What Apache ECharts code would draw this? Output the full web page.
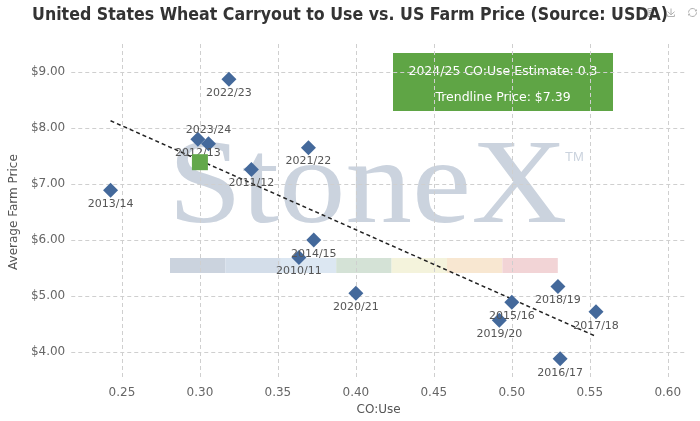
<!DOCTYPE html>
<html>
<head>
<meta charset="utf-8">
<script src="https://cdn.jsdelivr.net/npm/echarts@6/dist/echarts.min.js"></script>
<style>
  html, body { margin: 0; padding: 0; background: #fff; }
  #chart { width: 700px; height: 421px; }
</style>
</head>
<body>
<div id="chart"></div>
<script>
// seasons and their carryout-to-use ratio / farm price
const seasons = ['2010/11', '2011/12', '2012/13', '2013/14', '2014/15', '2015/16', '2016/17',
  '2017/18', '2018/19', '2019/20', '2020/21', '2021/22', '2022/23', '2023/24'];
const coUse = [0.3635, 0.333, 0.2987, 0.2427, 0.373, 0.50, 0.531,
  0.554, 0.5296, 0.492, 0.40, 0.3696, 0.3186, 0.3055];
const farmPrice = [5.69, 7.26, 7.80, 6.89, 6.00, 4.89, 3.88,
  4.72, 5.17, 4.57, 5.05, 7.65, 8.87, 7.72];

// 2024/25 estimate
const estimate = [0.3, 7.39];

// dashed trendline end points
const trendX = [0.2427, 0.554];
const trendY = [8.13, 4.28];

// seasons whose label sits above the marker
const labelAbove = ['2023/24'];

const font = 'DejaVu Sans, Verdana, sans-serif';
const gridLine = { type: [4, 3], color: '#cfcfcf', width: 1 };

const points = seasons.map((s, i) => ({
  name: s,
  value: [coUse[i], farmPrice[i]],
  label: labelAbove.indexOf(s) >= 0 ? { position: 'top' } : undefined
}));

const logoBar = ['#cbd3de', '#d3dde9', '#dce7f2', '#d4e2d6', '#f4f3dc', '#f8e7d1', '#f2d4d6'];

const chart = echarts.init(document.getElementById('chart'));

const graphic = [
  // StoneX watermark logo
  {
    type: 'text', z: -1, silent: true, x: 168, y: 190, scaleX: 1.1,
    style: { text: 'StoneX', x: 0, y: 0, font: '121px "Liberation Serif", serif',
      fill: '#cbd3de', textVerticalAlign: 'middle' }
  },
  {
    type: 'text', z: -1, silent: true,
    style: { text: 'TM', x: 565, y: 157, font: '13px "Liberation Sans", sans-serif',
      fill: '#cbd3de', textVerticalAlign: 'middle' }
  }
];
logoBar.forEach((c, i) => {
  graphic.push({
    type: 'rect', z: -1, silent: true,
    shape: { x: 170 + i * 55.4, y: 258, width: 55.4, height: 15 },
    style: { fill: c }
  });
});
// estimate call-out box
graphic.push({
  type: 'group', left: 393, top: 53, z: 100,
  children: [
    { type: 'rect', shape: { x: 0, y: 0, width: 220, height: 58 }, style: { fill: '#5fa545' } },
    { type: 'text', style: { text: '2024/25 CO:Use Estimate: ' + estimate[0], x: 110, y: 19,
      font: '12.5px ' + font, fill: '#fff', textAlign: 'center', textVerticalAlign: 'middle' } },
    { type: 'text', style: { text: 'Trendline Price: $' + estimate[1].toFixed(2), x: 110, y: 45,
      font: '12.5px ' + font, fill: '#fff', textAlign: 'center', textVerticalAlign: 'middle' } }
  ]
});

const option = {
  animation: false,
  backgroundColor: '#fff',
  title: {
    text: 'United States Wheat Carryout to Use vs. US Farm Price (Source: USDA)',
    left: 'center',
    top: 1,
    textStyle: { fontFamily: '"DejaVu Sans Condensed", "Liberation Sans", sans-serif',
      fontSize: 17.6, fontWeight: 'bold', color: '#333' }
  },
  toolbox: {
    right: -14,
    top: -9,
    itemSize: 8,
    itemGap: 9,
    iconStyle: { borderColor: '#b0b0b0' },
    feature: { dataView: {}, saveAsImage: {}, restore: {} }
  },
  grid: { left: 63, right: 14, top: 44, bottom: 38 },
  xAxis: {
    type: 'value',
    min: 0.2175,
    max: 0.6117,
    splitNumber: 8,
    minInterval: 0.05,
    maxInterval: 0.05,
    name: 'CO:Use',
    nameLocation: 'middle',
    nameGap: 23,
    nameTextStyle: { fontFamily: font, fontSize: 12, color: '#555' },
    axisLine: { show: false },
    axisTick: { show: false },
    axisLabel: {
      formatter: v => v.toFixed(2),
      showMinLabel: false, showMaxLabel: false,
      fontFamily: font, fontSize: 12, color: '#666', margin: 7
    },
    splitLine: { show: true, showMinLine: false, showMaxLine: false, lineStyle: gridLine }
  },
  yAxis: {
    type: 'value',
    min: 3.5,
    max: 9.5,
    splitNumber: 6,
    minInterval: 1,
    maxInterval: 1,
    name: 'Average Farm Price',
    nameLocation: 'middle',
    nameGap: 50,
    nameTextStyle: { fontFamily: font, fontSize: 12, color: '#555' },
    axisLine: { show: false },
    axisTick: { show: false },
    axisLabel: {
      formatter: v => '$' + v.toFixed(2),
      showMinLabel: false, showMaxLabel: false,
      fontFamily: font, fontSize: 12, color: '#666', margin: 6
    },
    splitLine: { show: true, showMinLine: false, showMaxLine: false, lineStyle: gridLine }
  },
  series: [
    {
      type: 'line',
      data: trendX.map((x, i) => [x, trendY[i]]),
      symbol: 'none',
      silent: true,
      z: 3,
      lineStyle: { color: '#222', width: 1.5, type: [4, 3] }
    },
    {
      type: 'scatter',
      data: points,
      symbol: 'diamond',
      symbolSize: 15,
      z: 4,
      itemStyle: { color: '#44699b', opacity: 1 },
      label: {
        show: true,
        position: 'bottom',
        distance: 1,
        formatter: '{b}',
        fontFamily: font,
        fontSize: 11,
        color: '#555'
      }
    },
    {
      type: 'scatter',
      data: [estimate],
      symbol: 'rect',
      symbolSize: 16,
      z: 5,
      itemStyle: { color: '#63a84a', opacity: 1 }
    }
  ],
  graphic: graphic
};

chart.setOption(option);
</script>
</body>
</html>
